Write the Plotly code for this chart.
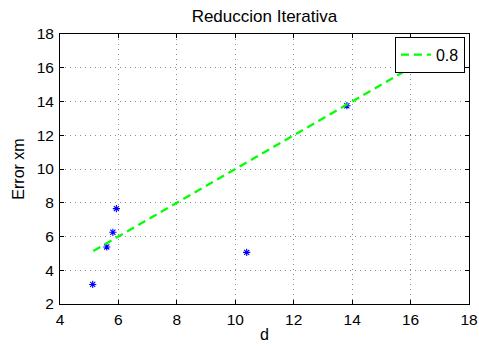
import plotly.graph_objects as go

# Measured points
d_vals = [5.12, 5.60, 5.81, 5.93, 10.39, 13.82]
err_vals = [3.16, 5.38, 6.25, 7.65, 5.06, 13.75]

# Reference trend (slope 1 line)
trend_x = [5.14, 16.9]
trend_y = [5.14, 16.9]
trend_name = "0.8"

x_ticks = list(range(4, 19, 2))
y_ticks = list(range(2, 19, 2))

FONT = "Liberation Sans, Arial, Helvetica, sans-serif"

fig = go.Figure()
fig.add_trace(go.Scatter(
    x=d_vals, y=err_vals, mode="markers", showlegend=False,
    marker=dict(symbol="asterisk-open", size=6, color="rgb(0,0,255)",
                line=dict(width=1.1, color="rgb(0,0,255)")),
))
fig.add_trace(go.Scatter(
    x=trend_x, y=trend_y, mode="lines", name=trend_name,
    line=dict(color="rgb(0,255,0)", width=2.2, dash="8px,5px"),
))

axis_common = dict(
    showline=True, linecolor="black", linewidth=1, mirror="ticks",
    ticks="inside", ticklen=4, tickcolor="black", automargin=False,
    showgrid=True, gridcolor="rgb(140,140,140)", gridwidth=1, griddash="1px,4px",
    zeroline=False, tickfont=dict(family=FONT, size=15.5, color="black"),
)

fig.update_xaxes(range=[4, 18], tickvals=x_ticks, ticklabelstandoff=1,
                 title=dict(text="d", font=dict(family=FONT, size=16, color="black"), standoff=2),
                 **axis_common)
fig.update_yaxes(range=[2, 18], tickvals=y_ticks, ticklabelstandoff=2,
                 title=dict(text="Error xm", font=dict(family=FONT, size=16, color="black"), standoff=8),
                 **axis_common)

fig.update_layout(
    width=479, height=346,
    margin=dict(l=60, r=10, t=34, b=42),
    paper_bgcolor="white", plot_bgcolor="white",
    title=dict(text="Reduccion Iterativa", x=0.552, xanchor="center", y=0.955, yanchor="middle",
               font=dict(family=FONT, size=17, color="black")),
    legend=dict(x=0.99, y=0.99, xanchor="right", yanchor="top",
                bgcolor="white", bordercolor="black", borderwidth=1,
                font=dict(family=FONT, size=16, color="black"),
                itemwidth=30, tracegroupgap=0),
    showlegend=True,
)

fig.write_html("out.html")
